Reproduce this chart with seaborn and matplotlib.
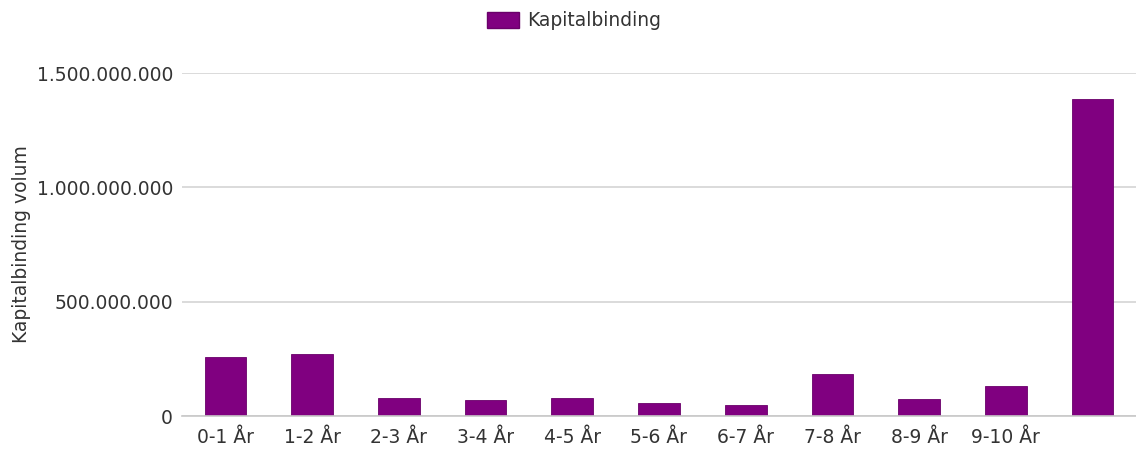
import matplotlib
matplotlib.use('Agg')
import matplotlib.pyplot as plt
import matplotlib.ticker as mticker
from matplotlib.patches import Patch
import seaborn as sns
import pandas as pd

# data
categories = ['0-1 År', '1-2 År', '2-3 År', '3-4 År', '4-5 År', '5-6 År',
              '6-7 År', '7-8 År', '8-9 År', '9-10 År', '']
values = [257e6, 270e6, 77e6, 71e6, 77e6, 58e6, 48e6, 182e6, 73e6, 131e6, 1386e6]
series_name = 'Kapitalbinding'
y_label = 'Kapitalbinding volum'
y_ticks = [0, 500e6, 1000e6, 1500e6]

df = pd.DataFrame({'cat': categories, 'val': values})

sns.set_style('white')
plt.rcParams['font.family'] = ['DejaVu Sans']
fs = 13.5
txt = '#333333'

fig = plt.figure(figsize=(11.36, 4.51), dpi=100)
ax = fig.add_axes([0.1602, 0.0776, 0.8398, 0.7605])

purple = '#800080'
sns.barplot(data=df, x='cat', y='val', order=categories, color=purple,
            width=0.48, saturation=1, ax=ax, edgecolor='#6a006a', linewidth=0.6)

ax.set_ylim(0, 1500e6)
ax.set_xlim(-0.5, len(categories) - 0.5)
ax.set_yticks(y_ticks)
ax.yaxis.set_major_formatter(mticker.FuncFormatter(lambda v, p: f'{int(v):,}'.replace(',', '.')))
ax.yaxis.grid(True, color='#d4d4d4', linewidth=1.2)
ax.set_axisbelow(True)

for s in ['left', 'top', 'right']:
    ax.spines[s].set_visible(False)
ax.spines['bottom'].set_color('#c8c8c8')
ax.spines['bottom'].set_linewidth(1.2)

ax.tick_params(axis='y', length=0, labelsize=fs, labelcolor=txt, pad=6.5)
ax.tick_params(axis='x', which='major', length=0, labelsize=fs, labelcolor=txt, pad=8.5)
ax.set_xticks([i - 0.5 for i in range(len(categories) + 1)], minor=True)
ax.tick_params(axis='x', which='minor', length=5, color='#c8c8c8', width=1.2)

ax.set_xlabel('')
ax.set_ylabel(y_label, fontsize=fs, color=txt)
ax.yaxis.set_label_coords(-0.158, 0.5)

fig.legend(handles=[Patch(facecolor=purple, edgecolor='#6a006a', label=series_name)],
           loc='center', bbox_to_anchor=(0.505, 1 - 21 / 451), frameon=False,
           fontsize=fs, handlelength=1.7, handleheight=0.96, handletextpad=0.43,
           labelcolor=txt, borderpad=0)

fig.savefig('out.png', dpi=100)
